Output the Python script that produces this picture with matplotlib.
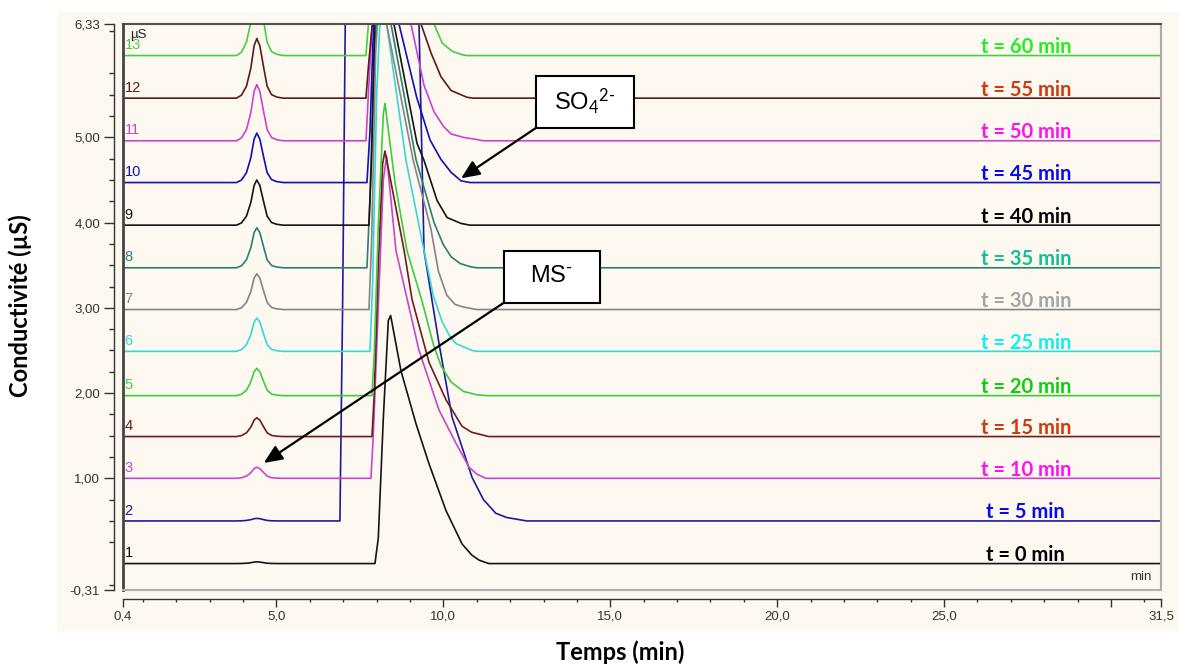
import numpy as np
import matplotlib
matplotlib.use("Agg")
import matplotlib.pyplot as plt
from matplotlib.patches import Rectangle
from matplotlib.ticker import FixedLocator

plt.rcParams['font.family'] = ['Liberation Sans', 'DejaVu Sans']
plt.rcParams['mathtext.fontset'] = 'custom'
plt.rcParams['mathtext.rm'] = 'Lato'
plt.rcParams['mathtext.it'] = 'Lato:italic'

trace_ids = list(range(1, 14))
sample_times = [0, 5, 10, 15, 20, 25, 30, 35, 40, 45, 50, 55, 60]   # min
offsets = [0.0, 0.5, 1.0, 1.49, 1.97, 2.49, 2.98, 3.47, 3.97, 4.47, 4.96, 5.46, 5.96]

# MS- peak (~4.4 min): common profile and height of each trace
ms_t = [3.80, 3.95, 4.10, 4.23, 4.33, 4.41, 4.50, 4.62, 4.72, 4.85, 5.00, 5.20]
ms_shape = [0, 0.05, 0.2, 0.5, 0.88, 1.0, 0.88, 0.5, 0.2, 0.06, 0.02, 0]
ms_heights = [0.02, 0.03, 0.13, 0.22, 0.32, 0.39, 0.42, 0.47, 0.53, 0.58, 0.66, 0.70, 0.78]

# SO4 2- peak: points of each trace (time, signal above its baseline)
so4_t = [
    [7.95, 8.05, 8.20, 8.35, 8.42, 8.73, 9.18, 9.57, 10.08, 10.56, 10.85, 11.07, 11.36],
    [6.90, 6.98, 7.10, 8.30, 9.10, 9.27, 9.42, 9.87, 10.26, 10.86, 11.20, 11.57, 11.90, 12.20, 12.50],
    [7.83, 7.90, 8.05, 8.20, 8.30, 8.58, 9.27, 9.87, 10.38, 10.77, 11.00, 11.27],
    [7.86, 7.93, 8.05, 8.18, 8.25, 8.82, 9.06, 9.57, 10.08, 10.56, 10.85, 11.16, 11.36],
    [7.86, 7.93, 8.05, 8.20, 8.25, 8.55, 8.91, 9.36, 9.70, 9.93, 10.23, 10.60, 11.00, 11.30],
    [7.80, 7.88, 8.00, 8.15, 8.30, 8.88, 9.42, 9.70, 9.96, 10.20, 10.38, 10.86, 11.00],
    [7.77, 7.85, 7.97, 8.12, 8.30, 9.09, 9.63, 9.85, 10.10, 10.35, 10.60, 11.00],
    [7.71, 7.80, 7.92, 8.10, 8.43, 9.18, 9.72, 10.00, 10.23, 10.50, 10.83, 11.00],
    [7.77, 7.85, 7.95, 8.15, 8.52, 9.21, 9.42, 9.81, 10.11, 10.53, 10.80],
    [7.71, 7.80, 7.92, 8.20, 8.67, 9.20, 9.60, 9.93, 10.23, 10.53, 10.80],
    [7.68, 7.76, 7.90, 8.30, 9.03, 9.42, 9.72, 10.00, 10.23, 10.60, 10.92, 11.20],
    [7.68, 7.76, 7.90, 8.40, 9.33, 9.63, 9.93, 10.23, 10.71, 10.90],
    [7.68, 7.74, 7.85, 8.60, 9.72, 9.96, 10.26, 10.56, 10.70],
]
so4_v = [
    [0, 0.3, 1.7, 2.85, 2.91, 2.26, 1.64, 1.17, 0.62, 0.23, 0.10, 0.04, 0],
    [0, 2.5, 7.5, 10.5, 8.0, 5.83, 3.17, 2.08, 1.22, 0.51, 0.25, 0.09, 0.04, 0.02, 0],
    [0, 0.5, 2.0, 3.5, 3.78, 2.67, 1.50, 0.80, 0.41, 0.13, 0.05, 0],
    [0, 0.5, 2.0, 3.2, 3.35, 2.19, 1.61, 0.87, 0.43, 0.12, 0.05, 0.02, 0],
    [0, 0.5, 2.0, 3.3, 3.43, 2.5, 1.70, 1.11, 0.6, 0.35, 0.16, 0.05, 0.01, 0],
    [0, 0.8, 3.0, 4.3, 3.84, 2.24, 1.18, 0.65, 0.35, 0.17, 0.09, 0.01, 0],
    [0, 0.8, 3.0, 4.0, 3.35, 1.76, 0.94, 0.45, 0.17, 0.06, 0.03, 0],
    [0, 0.8, 2.5, 3.5, 2.86, 1.27, 0.53, 0.27, 0.13, 0.05, 0.01, 0],
    [0, 0.8, 2.5, 3.0, 2.36, 0.96, 0.76, 0.29, 0.09, 0.02, 0],
    [0, 0.6, 2.0, 2.6, 1.86, 1.0, 0.5, 0.27, 0.12, 0.02, 0],
    [0, 0.6, 1.6, 2.2, 1.37, 0.65, 0.34, 0.17, 0.08, 0.04, 0.02, 0],
    [0, 0.4, 1.0, 1.6, 0.87, 0.53, 0.25, 0.09, 0.01, 0],
    [0, 0.3, 0.8, 1.3, 0.37, 0.15, 0.05, 0.01, 0],
]

line_colors = ['#141414', '#1c1c9a', '#cc44cc', '#6a1e1e', '#3fcc3f', '#35d8d8',
               '#858585', '#2e7d72', '#141414', '#1010b4', '#cc44cc', '#5c1a1a', '#48cc48']
label_colors = ['#000000', '#0a0aee', '#ff10f0', '#cc3a10', '#10cc10', '#10eeee',
                '#a5a5a5', '#10c090', '#000000', '#0a0aee', '#ff10f0', '#cc3a10', '#22ee22']

xtick_vals = [0.4, 5, 10, 15, 20, 25, 30, 31.5]
xtick_labels = ['0,4', '5,0', '10,0', '15,0', '20,0', '25,0', '', '31,5']
ytick_vals = [-0.31, 1, 2, 3, 4, 5, 6.33]
ytick_labels = ['-0,31', '1,00', '2,00', '3,00', '4,00', '5,00', '6,33']

cream = '#fdf9f0'

fig = plt.figure(figsize=(11.79, 6.65), dpi=100)
bg = Rectangle((0.0483, 0.0511), 0.96, 0.9308, transform=fig.transFigure,
               fc=cream, ec='none', zorder=-10)
fig.patches.append(bg)
ax = fig.add_axes([0.1043, 0.1128, 0.8804, 0.8511])
ax.set_zorder(1)
ax.set_facecolor(cream)

for i in range(13):
    t = np.concatenate([[0.4], ms_t, so4_t[i], [31.5]])
    v = np.concatenate([[0], ms_heights[i] * np.array(ms_shape), so4_v[i], [0]]) + offsets[i]
    ax.plot(t, v, color=line_colors[i], lw=1.2, zorder=2)
    ax.text(0.45, offsets[i] + 0.04, str(trace_ids[i]), color=line_colors[i],
            fontsize=10.5, ha='left', va='bottom', zorder=3)
    ax.text(27.45, offsets[i] + 0.03, 't = %d min' % sample_times[i], color=label_colors[i],
            fontsize=14.5, fontweight='bold', family='Lato', ha='center', va='baseline', zorder=3)

ax.set_xlim(0.4, 31.5)
ax.set_ylim(-0.31, 6.33)

# frame of the plot area + offset axes
ax.spines['left'].set_position(('outward', 6.5))
ax.spines['bottom'].set_position(('outward', 6.2))
for s in ['left', 'bottom']:
    ax.spines[s].set_color('#333333')
    ax.spines[s].set_linewidth(1.0)
ax.spines['top'].set_color('#505050')
ax.spines['top'].set_linewidth(1.5)
ax.spines['right'].set_color('#aaaaaa')
ax.spines['right'].set_linewidth(1.5)
ax.axvline(0.4, color='#454545', lw=2.0, clip_on=False, zorder=4)
ax.axhline(-0.31, color='#b0b0b0', lw=1.5, clip_on=False, zorder=4)

ax.xaxis.set_major_locator(FixedLocator(xtick_vals))
ax.set_xticklabels(xtick_labels)
ax.xaxis.set_minor_locator(FixedLocator([m for m in range(1, 32) if m % 5 != 0]))
ax.yaxis.set_major_locator(FixedLocator(ytick_vals))
ax.set_yticklabels(ytick_labels)
ax.yaxis.set_minor_locator(FixedLocator([k * 0.25 for k in range(-1, 26) if k % 4 != 0]))
ax.tick_params(axis='both', which='both', colors='#333333', labelsize=9.5, width=1.0)
ax.tick_params(axis='y', which='major', length=7, pad=3.0)
ax.tick_params(axis='y', which='minor', length=3.6)
ax.tick_params(axis='x', which='major', length=5.8, pad=3.0)
ax.tick_params(axis='x', which='minor', length=2.5)

ax.text(0.62, 6.2, 'µS', fontsize=9.5, color='#222222', ha='left', va='center', zorder=3)
ax.text(31.23, -0.16, 'min', fontsize=9.5, color='#333333', ha='right', va='center', zorder=3)

# annotation boxes with arrows
arrow_kw = dict(arrowstyle='-|>,head_length=0.8,head_width=0.35', color='black', lw=1.6,
                shrinkA=0, shrinkB=0, mutation_scale=14)
ax.add_patch(Rectangle((12.77, 5.11), 2.94, 0.61, fc='white', ec='black', lw=1.5, zorder=5))
ax.text(14.24, 5.41, r'SO$_4$$^{2\text{-}}$', fontsize=17, ha='center', va='center', zorder=6)
ax.annotate('', xy=(10.53, 4.52), xytext=(12.77, 5.11), arrowprops=arrow_kw, zorder=5)

ax.add_patch(Rectangle((11.81, 3.06), 2.88, 0.61, fc='white', ec='black', lw=1.5, zorder=5))
ax.text(13.25, 3.37, r'MS$^{\text{-}}$', fontsize=17, ha='center', va='center', zorder=6)
ax.annotate('', xy=(4.62, 1.18), xytext=(11.81, 3.06), arrowprops=arrow_kw, zorder=5)

fig.text(0.017, 0.541, 'Conductivité (µS)', rotation=90, fontsize=17, fontweight='bold',
         family='Lato', ha='center', va='center')
fig.text(0.526, 0.0195, 'Temps (min)', fontsize=17, fontweight='bold', family='Lato',
         ha='center', va='center')

fig.savefig('out.png', dpi=100)
